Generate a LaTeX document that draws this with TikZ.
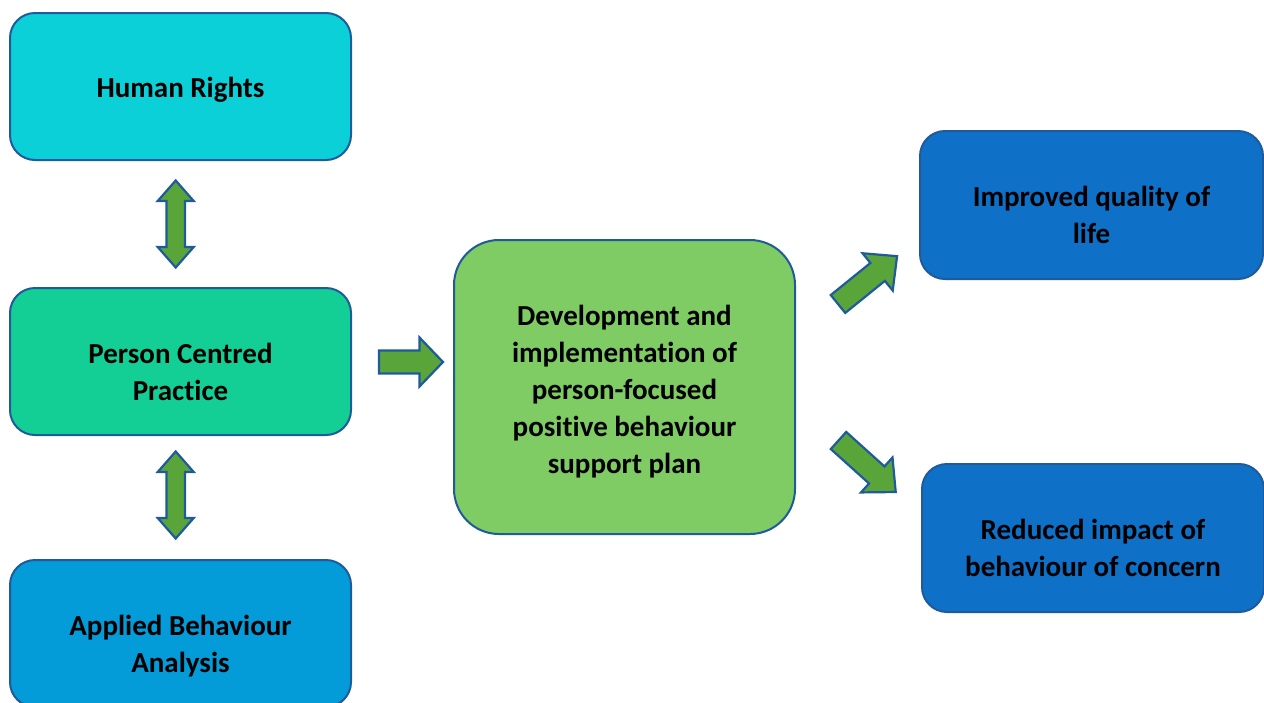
\documentclass[tikz,border=0pt]{standalone}
\usepackage{fontspec}
\setmainfont{Carlito}[Ligatures={NoCommon}]
\begin{document}
\definecolor{edgeblue}{HTML}{1F5A9A}
\definecolor{rightsfill}{HTML}{0CD0D8}
\definecolor{pcpfill}{HTML}{13CF96}
\definecolor{abafill}{HTML}{039BD8}
\definecolor{planfill}{HTML}{7ECC63}
\definecolor{outfill}{HTML}{0E70C6}
\definecolor{arrowfill}{HTML}{5AA53A}
\newcommand\onewayarrow[4]{(0,-#2/2) -- (#1-#4,-#2/2) -- (#1-#4,-#3/2) -- (#1,0) -- (#1-#4,#3/2) -- (#1-#4,#2/2) -- (0,#2/2) -- cycle}
\newcommand\twowayarrow[4]{(-#1/2,0) -- (-#1/2+#4,#3/2) -- (-#1/2+#4,#2/2) -- (#1/2-#4,#2/2) -- (#1/2-#4,#3/2) -- (#1/2,0) -- (#1/2-#4,-#3/2) -- (#1/2-#4,-#2/2) -- (-#1/2+#4,-#2/2) -- (-#1/2+#4,-#3/2) -- cycle}
\begin{tikzpicture}[x=1pt,y=-1pt,
  box/.style={draw=edgeblue,line width=2pt,rounded corners=25pt,inner sep=0pt},
  lbl/.style={inner sep=0pt,align=center,font=\fontsize{29}{37}\selectfont\bfseries,text=black},
  fat/.style={draw=edgeblue,line width=2.2pt,fill=arrowfill,line join=miter}]
\clip (0,0) rectangle (1264,702);
\useasboundingbox (0,0) rectangle (1264,702);

% left column
\node[box,fill=rightsfill,minimum width=341pt,minimum height=147pt] (rights) at (180.5,86.5) {};
\node[box,fill=pcpfill,minimum width=341pt,minimum height=147pt] (pcp) at (180.5,361.5) {};
\node[box,fill=abafill,minimum width=341pt,minimum height=147pt] (aba) at (180.5,633.5) {};
\node[lbl] (rightsT) at ([yshift=-3pt]rights.center) {Human Rights};
\node[lbl] (pcpT) at ([yshift=-10pt]pcp.center) {Person Centred\\Practice};
\node[lbl] (abaT) at ([yshift=-13pt]aba.center) {Applied Behaviour\\Analysis};

% central plan
\node[box,fill=planfill,rounded corners=45pt,minimum width=341pt,minimum height=294pt] (plan) at (624.5,387) {};
\node[lbl] (planT) at ([yshift=-5pt]plan.center) {Development and\\implementation of\\person-focused\\positive behaviour\\support plan};

% outcomes
\node[box,fill=outfill,minimum width=343pt,minimum height=148pt] (life) at (1091.5,205) {};
\node[box,fill=outfill,minimum width=342pt,minimum height=148pt] (reduce) at (1093,538) {};
\node[lbl] (lifeT) at ([yshift=-10pt]life.center) {Improved quality of\\life};
\node[lbl] (reduceT) at ([yshift=-10pt]reduce.center) {Reduced impact of\\behaviour of concern};

% block arrows between the boxes
\coordinate (a1) at (175.7,224);
\coordinate (a2) at (175.7,495);
\coordinate (a3) at (379,362);
\coordinate (a4) at (838,304);
\coordinate (a5) at (838.5,440.5);
\begin{scope}[shift={(a1)},rotate=90]
  \draw[fat] \twowayarrow{87}{18.6}{36}{20.5};
\end{scope}
\begin{scope}[shift={(a2)},rotate=90]
  \draw[fat] \twowayarrow{87}{18.6}{36}{20.5};
\end{scope}
\begin{scope}[shift={(a3)}]
  \draw[fat] \onewayarrow{64}{23}{49}{23.5};
\end{scope}
\begin{scope}[shift={(a4)},rotate=39]
  \draw[fat] \onewayarrow{76}{23}{48}{25};
\end{scope}
\begin{scope}[shift={(a5)},rotate=-42]
  \draw[fat] \onewayarrow{77}{23}{47}{25.5};
\end{scope}
\end{tikzpicture}
\end{document}
